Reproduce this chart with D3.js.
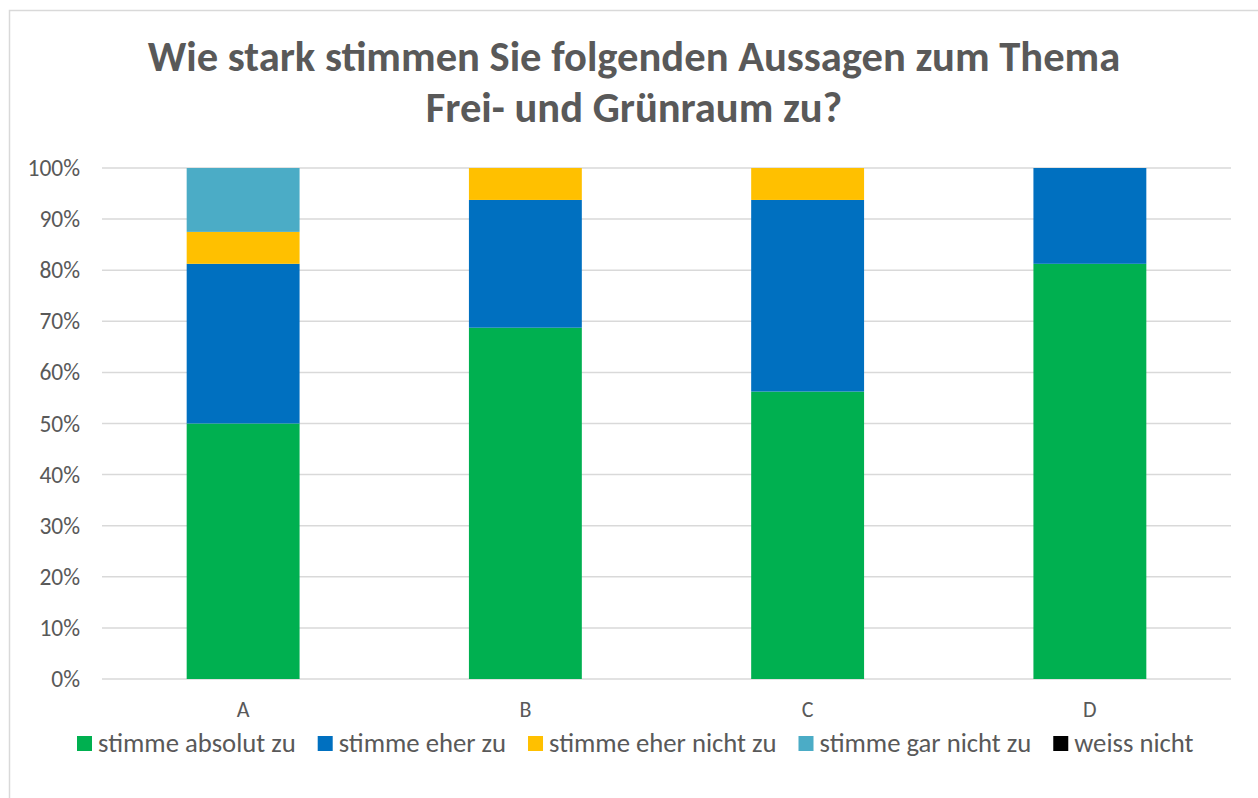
<!DOCTYPE html>
<html>
<head>
<meta charset="utf-8">
<script src="https://cdn.jsdelivr.net/npm/d3@7"></script>
<style>
  body { margin: 0; background: #fff; }
  text { font-family: Carlito, "Open Sans", sans-serif; fill: #595959; }
</style>
</head>
<body>
<script>
var width = 1258;
var height = 798;

// data (share of answers, %)
var categories = ["A", "B", "C", "D"];
var seriesNames = ["stimme absolut zu", "stimme eher zu", "stimme eher nicht zu", "stimme gar nicht zu", "weiss nicht"];
var absolut = [50, 68.75, 56.25, 81.25];
var eher = [31.25, 25, 37.5, 18.75];
var eherNicht = [6.25, 6.25, 6.25, 0];
var garNicht = [12.5, 0, 0, 0];
var weissNicht = [0, 0, 0, 0];
var yTicks = [0, 10, 20, 30, 40, 50, 60, 70, 80, 90, 100];
var titleLines = ["Wie stark stimmen Sie folgenden Aussagen zum Thema", "Frei- und Grünraum zu?"];

var colors = ["#00b050", "#0070c0", "#ffc000", "#4bacc6", "#000000"];

var table = categories.map(function (c, i) {
  return {
    cat: c,
    "stimme absolut zu": absolut[i],
    "stimme eher zu": eher[i],
    "stimme eher nicht zu": eherNicht[i],
    "stimme gar nicht zu": garNicht[i],
    "weiss nicht": weissNicht[i]
  };
});

var svg = d3.select("body").append("svg")
  .attr("width", width).attr("height", height);

// chart border
svg.append("rect").attr("x", 9.5).attr("y", 10.5)
  .attr("width", width + 20).attr("height", height + 20)
  .style("fill", "none").style("stroke", "#d9d9d9").style("stroke-width", 1.5);

// title, fit to the width seen in the picture
var title = svg.append("g");
titleLines.forEach(function (line, i) {
  title.append("text")
    .attr("x", 634).attr("y", i === 0 ? 71 : 122)
    .attr("text-anchor", "middle")
    .style("font-weight", "bold").style("font-size", "36px")
    .text(line);
});
var t0 = title.select("text").node();
var fit = 36 * 973 / t0.getComputedTextLength();
title.selectAll("text").style("font-size", fit + "px");

var x = d3.scaleBand().domain(categories).range([102, 1231]);
var y = d3.scaleLinear().domain([0, 100]).range([679, 168]);

// grid
svg.append("g").selectAll("line").data(yTicks).enter().append("line")
  .attr("x1", 102).attr("x2", 1231)
  .attr("y1", function (d) { return y(d); }).attr("y2", function (d) { return y(d); })
  .style("stroke", "#d9d9d9").style("stroke-width", 1.5);

// y labels
svg.append("g").selectAll("text").data(yTicks).enter().append("text")
  .attr("x", 80).attr("y", function (d) { return y(d) + 8; })
  .attr("text-anchor", "end").style("font-size", "23.5px")
  .text(function (d) { return d + "%"; });

// stacked bars
var stack = d3.stack().keys(seriesNames)(table);
var barW = x.bandwidth() * 0.4;
svg.append("g").selectAll("g").data(stack).enter().append("g")
  .style("fill", function (d, i) { return colors[i]; })
  .selectAll("rect").data(function (d) { return d; }).enter().append("rect")
  .attr("x", function (d) { return x(d.data.cat) + (x.bandwidth() - barW) / 2; })
  .attr("width", barW)
  .attr("y", function (d) { return y(d[1]); })
  .attr("height", function (d) { return y(d[0]) - y(d[1]); });

// category labels
svg.append("g").selectAll("text").data(categories).enter().append("text")
  .attr("x", function (d) { return x(d) + x.bandwidth() / 2; })
  .attr("y", 717).attr("text-anchor", "middle").style("font-size", "22px")
  .text(function (d) { return d; });

// legend
var legend = svg.append("g");
var lx = 77;
seriesNames.forEach(function (name, i) {
  legend.append("rect").attr("x", lx).attr("y", 736).attr("width", 15).attr("height", 15)
    .style("fill", colors[i]);
  var t = legend.append("text").attr("x", lx + 21).attr("y", 752)
    .style("font-size", "26.7px").text(name);
  lx += 21 + t.node().getComputedTextLength() + 22;
});
</script>
</body>
</html>
